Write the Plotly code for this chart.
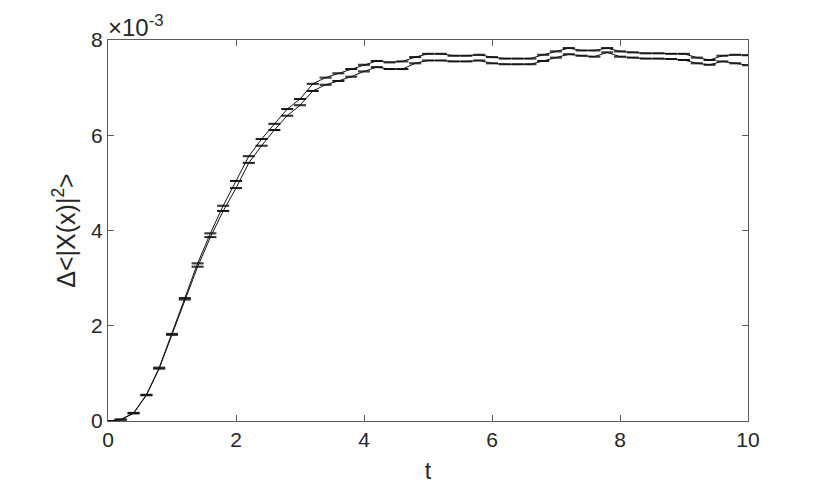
import plotly.graph_objects as go

t = [0.0, 0.2, 0.4, 0.6, 0.8, 1.0, 1.2, 1.4, 1.6, 1.8,
     2.0, 2.2, 2.4, 2.6, 2.8, 3.0, 3.2, 3.4, 3.6, 3.8,
     4.0, 4.2, 4.4, 4.6, 4.8, 5.0, 5.2, 5.4, 5.6, 5.8,
     6.0, 6.2, 6.4, 6.6, 6.8, 7.0, 7.2, 7.4, 7.6, 7.8,
     8.0, 8.2, 8.4, 8.6, 8.8, 9.0, 9.2, 9.4, 9.6, 9.8, 10.0]

# values in units of 1e-3
upper = [0.00, 0.03, 0.17, 0.55, 1.12, 1.83, 2.58, 3.31, 3.94, 4.52,
         5.04, 5.56, 5.92, 6.24, 6.55, 6.76, 7.08, 7.21, 7.30, 7.39,
         7.48, 7.56, 7.53, 7.55, 7.64, 7.71, 7.71, 7.67, 7.67, 7.69,
         7.64, 7.61, 7.61, 7.61, 7.69, 7.76, 7.83, 7.78, 7.78, 7.83,
         7.76, 7.74, 7.72, 7.72, 7.71, 7.71, 7.63, 7.58, 7.67, 7.69, 7.68]

lower = [0.00, 0.03, 0.16, 0.54, 1.10, 1.81, 2.55, 3.24, 3.86, 4.41,
         4.89, 5.42, 5.78, 6.11, 6.41, 6.63, 6.93, 7.06, 7.14, 7.23,
         7.34, 7.43, 7.39, 7.39, 7.51, 7.57, 7.57, 7.55, 7.55, 7.57,
         7.51, 7.49, 7.49, 7.49, 7.56, 7.63, 7.70, 7.67, 7.65, 7.74,
         7.65, 7.63, 7.61, 7.61, 7.60, 7.58, 7.51, 7.48, 7.55, 7.51, 7.47]

err = [0.01] * len(t)

x_ticks = [0, 2, 4, 6, 8, 10]
y_ticks = [0, 2, 4, 6, 8]

font = "Liberation Sans, Arial, sans-serif"
txt = "#262626"

fig = go.Figure()
for ys in (upper, lower):
    fig.add_trace(go.Scatter(
        x=t, y=ys, mode="lines",
        line=dict(color="#111111", width=1),
        error_y=dict(type="data", array=err, visible=True,
                     color="#111111", thickness=1, width=6),
        showlegend=False,
    ))

axis_common = dict(
    showline=True, linecolor="#5a5a5a", linewidth=1, mirror="ticks",
    ticks="inside", ticklen=6, tickcolor="#5a5a5a", tickwidth=1,
    showgrid=False, zeroline=False,
    tickfont=dict(family=font, size=21, color=txt),
)

fig.update_layout(
    width=830, height=491,
    margin=dict(l=100, r=90, t=32, b=78),
    paper_bgcolor="white", plot_bgcolor="white",
    title=dict(text="×10<sup>-3</sup>", x=0.0, xref="paper", xanchor="left",
               y=0.942, yref="container", yanchor="bottom",
               font=dict(family=font, size=24, color=txt)),
    xaxis=dict(range=[0, 10], tickvals=x_ticks,
               title=dict(text="t", font=dict(family=font, size=23, color=txt), standoff=12),
               **axis_common),
    yaxis=dict(range=[0, 8], tickvals=y_ticks,
               title=dict(text="Δ&lt;|X(x)|<sup>2</sup>&gt;", font=dict(family=font, size=25, color=txt), standoff=8),
               **axis_common),
)

fig.write_html("out.html")
